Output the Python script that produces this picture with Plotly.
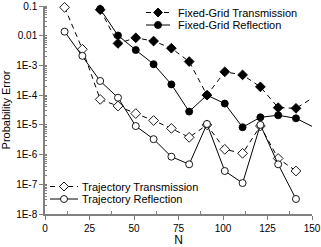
import plotly.graph_objects as go

# Data
n_traj = [11, 21, 31, 41, 51, 61, 71, 81, 91, 101, 111, 121, 131, 141]
n_fixed = [31, 41, 51, 61, 71, 81, 91, 101, 111, 121, 131, 141, 151]

fixed_trans = [0.075, 5.5e-3, 8.5e-3, 6.6e-3, 3.8e-3, 1.35e-3, 1.0e-4, 6.1e-4, 4.8e-4, 1.9e-4, 3.8e-5, 3.6e-5, 8.5e-5]
fixed_refl = [0.079, 0.0102, 3.3e-3, 1.1e-3, 2.3e-4, 2.8e-5, 1.0e-4, 5.2e-5, 8.3e-6, 1.8e-5, 2.1e-5, 1.66e-5, 8.3e-6]
traj_trans = [0.09, 3.5e-3, 7.2e-5, 4.3e-5, 2.4e-5, 1.4e-5, 7.6e-6, 3.8e-6, 1.0e-5, 1.5e-6, 1.1e-6, 9.1e-6, 7.4e-7, 2.8e-7]
traj_refl = [0.0137, 2.1e-3, 3.0e-4, 8.2e-5, 9.1e-6, 3.3e-6, 8.5e-7, 4.7e-7, 1.07e-5, 2.8e-7, 1.1e-7, 1.0e-5, 4.7e-7, 3.2e-8]

y_tickvals = [1e-8, 1e-7, 1e-6, 1e-5, 1e-4, 1e-3, 1e-2, 1e-1]
y_ticktext = ["1E-8", "1E-7", "1E-6", "1E-5", "1E-4", "1E-3", "0.01", "0.1"]
x_tickvals = [0, 25, 50, 75, 100, 125, 150]

font = "Liberation Sans, Arial, sans-serif"
DASH = "5px,4px"

series = [
    dict(name="Fixed-Grid Transmission", x=n_fixed, y=fixed_trans, dash=DASH, symbol="diamond", filled=True),
    dict(name="Fixed-Grid Reflection", x=n_fixed, y=fixed_refl, dash="solid", symbol="circle", filled=True),
    dict(name="Trajectory Transmission", x=n_traj, y=traj_trans, dash=DASH, symbol="diamond", filled=False),
    dict(name="Trajectory Reflection", x=n_traj, y=traj_refl, dash="solid", symbol="circle", filled=False),
]

fig = go.Figure()
for s in series:
    size = 7.5 if s["symbol"] == "diamond" else 7
    fig.add_trace(go.Scatter(
        x=s["x"], y=s["y"], name=s["name"], mode="lines+markers",
        line=dict(color="black", width=1, dash=s["dash"]),
        marker=dict(symbol=s["symbol"], size=size, color="black" if s["filled"] else "white",
                    line=dict(width=0.9, color="black")),
        showlegend=False, cliponaxis=False))

# plot area in pixels
W, H = 321, 247
L, R, T, B = 45, 9, 6, 33
pw, ph = W - L - R, H - T - B


def px2paper(px, py):
    return (px - L) / pw, (H - B - py) / ph


# manual legends: (series index, line x0, line x1, marker x, text x, row y)
legend_rows = [
    (0, 146, 170, 158, 176, 12.5),
    (1, 146, 170, 158, 176, 25),
    (2, 50, 78, 64, 80, 186.5),
    (3, 50, 78, 64, 80, 199),
]
shapes = []
annotations = []
for idx, lx0, lx1, mx, tx, ry in legend_rows:
    s = series[idx]
    x0p, yp = px2paper(lx0, ry)
    x1p, _ = px2paper(lx1, ry)
    mxp, _ = px2paper(mx, ry)
    txp, _ = px2paper(tx, ry)
    shapes.append(dict(type="line", xref="paper", yref="paper", x0=x0p, x1=x1p, y0=yp, y1=yp,
                       line=dict(color="black", width=1, dash=s["dash"]), layer="above"))
    fill = "black" if s["filled"] else "white"
    if s["symbol"] == "circle":
        shapes.append(dict(type="circle", xref="paper", yref="paper", xsizemode="pixel", ysizemode="pixel",
                           xanchor=mxp, yanchor=yp, x0=-3.5, x1=3.5, y0=-3.5, y1=3.5,
                           fillcolor=fill, line=dict(color="black", width=0.9), layer="above"))
    else:
        shapes.append(dict(type="path", xref="paper", yref="paper", xsizemode="pixel", ysizemode="pixel",
                           xanchor=mxp, yanchor=yp, path="M -4.5 0 L 0 4.5 L 4.5 0 L 0 -4.5 Z",
                           fillcolor=fill, line=dict(color="black", width=0.9), layer="above"))
    annotations.append(dict(text=s["name"], xref="paper", yref="paper", x=txp, y=yp,
                            xanchor="left", yanchor="middle", showarrow=False,
                            font=dict(size=11, family=font, color="black")))

axis_col = "#808080"
fig.update_layout(
    width=W, height=H,
    margin=dict(l=L, r=R, t=T, b=B, autoexpand=False),
    paper_bgcolor="white", plot_bgcolor="white",
    font=dict(family=font, size=10, color="black"),
    showlegend=False,
    shapes=shapes, annotations=annotations,
    xaxis=dict(range=[0, 150], tickvals=x_tickvals, showgrid=False, zeroline=False, automargin=False,
               showline=True, linecolor=axis_col, linewidth=1.5,
               ticks="outside", ticklen=4, tickcolor=axis_col,
               minor=dict(tickvals=[12.5, 37.5, 62.5, 87.5, 112.5, 137.5],
                          ticks="inside", ticklen=3, tickcolor=axis_col),
               title=dict(text="N", font=dict(size=12), standoff=4)),
    yaxis=dict(type="log", range=[-8, -1], tickvals=y_tickvals, ticktext=y_ticktext,
               showgrid=False, zeroline=False, automargin=False,
               showline=True, linecolor=axis_col, linewidth=1.5,
               ticks="outside", ticklen=4, tickcolor=axis_col,
               minor=dict(dtick="D1", ticks="inside", ticklen=2, tickcolor=axis_col),
               title=dict(text="Probability Error", font=dict(size=11), standoff=3)),
)

fig.write_html("out.html",
               config={"displayModeBar": False},
               post_script="document.body.style.margin='0';document.body.style.overflow='hidden';")
